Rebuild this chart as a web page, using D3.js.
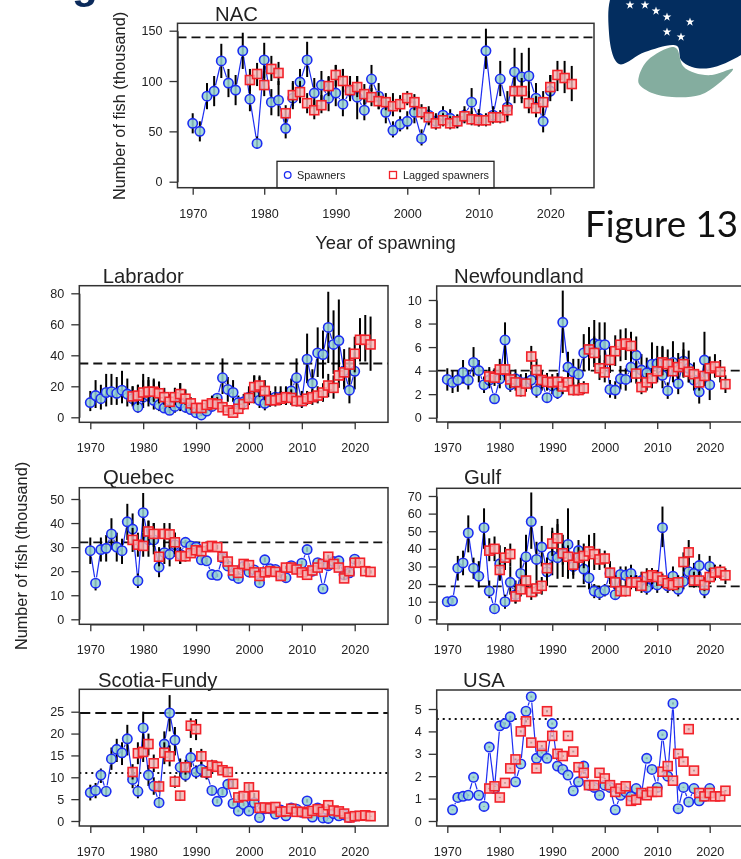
<!DOCTYPE html>
<html>
<head>
<meta charset="utf-8">
<script src="https://cdnjs.cloudflare.com/ajax/libs/d3/7.8.5/d3.min.js"></script>
<style>
  html, body { margin: 0; padding: 0; background: #fff; overflow: hidden; }
  svg { display: block; filter: blur(0.4px); }
  text { font-family: "Liberation Sans", Arial, sans-serif; fill: #222; }
</style>
</head>
<body>
<svg id="chart" width="741" height="859"></svg>
<script>
// years
var spawnerYears = d3.range(1970, 2021);
var laggedYears = d3.range(1978, 2024);
var xTicks = [1970, 1980, 1990, 2000, 2010, 2020];

// NAC
var nacSp = [58,50,85,90,120,98,91,130,82,38,121,79,81,53,83,99,121,88,96,83,88,77,90,84,71,102,85,69,51,57,60,69,43,66,60,66,63,60,66,79,63,130,66,102,74,109,104,105,83,60,90];
var nacSpLo = [48,40,72,75,103,84,76,112,70,33,103,66,65,43,72,85,104,72,80,70,75,65,80,62,61,90,72,58,44,50,52,58,36,56,52,57,55,53,58,67,55,112,58,85,60,88,82,82,66,49,80];
var nacSpHi = [68,60,98,105,137,112,106,148,97,45,138,92,100,63,100,112,139,103,110,104,116,112,105,105,83,116,98,82,60,65,70,80,52,75,68,75,72,67,75,93,72,152,75,120,90,133,128,133,98,72,106];
var nacLag = [101,107,96,112,108,68,86,89,78,71,76,95,106,100,91,94,87,84,80,79,75,77,83,79,69,64,58,61,58,60,65,62,61,61,64,64,71,90,90,78,73,79,94,106,103,97];
var nacLagLo = [90,95,85,100,96,60,75,78,68,62,68,85,95,89,82,84,77,75,72,71,65,69,76,71,62,57,52,55,52,54,59,56,55,55,58,58,64,78,78,68,64,68,84,90,88,80];
var nacLagHi = [112,118,110,125,119,76,98,100,88,81,86,105,116,112,100,105,97,93,89,88,88,86,90,87,77,72,66,68,65,66,72,70,68,68,71,71,80,104,103,90,85,90,106,120,120,115];

// Labrador
var labSp = [9.5,14,12,16,16.5,15.5,17.5,15,12,6.5,13,14,11,8,6,4.5,7,9,6.5,5,3,1.5,4,7,12.3,25.5,18,16,9.5,10,13,14.5,11,9,11,13,13,13,17,25.5,10.5,37.5,22,41.5,40.5,58,47,49.5,30,17.5,29.7];
var labSpLo = [4,6,5,7,8,8,9,7,7,3,6,7,5,4,3,2,3,4,3,2,1.5,0.8,2.5,4,7,15,10,10,6,6,8,9,6,4.5,7,8,8,8,10,15,6,22,13,26,25,35,28,28,18,9,18];
var labSpHi = [17,24,21,28,28,26,30,25,20,21,28,26,25,23,12,8,19,22,12,9,5,2.5,6,10,15,38,26,24,14,15,20,27,26,14,17,20,20,20,25,38,17,54,31,58,56,81,69,76,44,28,42];
var labLag = [13.5,14,16,16.5,16.5,15.5,13,10,13,15,12,9,6,6,8,9,8.5,6.5,4.5,3,5.5,8.5,12.5,19.5,20.5,17,11,11,12,13,12.5,10.5,10.5,12,13,14,16,20.5,19,27,29,34,41,50,50,47];
var labLagLo = [8,8,10,10,10,9,8,6,8,9,8,5,3,3.5,5,6,6,4,3,1.5,3,5,8,13,13,11,7,7,8,8,8,7,7,8,8,9,10,13,12,19,20,23,29,36,36,30];
var labLagHi = [20,21,24,24,24,23,19,15,19,22,18,13,9,9,11,14,13,10,7,5,8,12,18,27,27,24,16,16,17,19,18,15,15,17,18,20,22,28,27,37,38,45,52,64,66,65];

// Newfoundland
var nflSp = [3.25,3,3.2,3.85,3.2,4.7,4,2.8,3.2,1.6,3.3,6.6,2.8,3.3,3,3,3.2,2.3,3.1,1.7,2.7,2.1,8.1,4.3,3.9,3.7,5.5,5.8,6.3,6.2,6.2,2.4,2.35,3.3,3.25,4.3,5.3,4.05,3.8,4.55,4.6,3.6,2.3,4.7,2.9,4.8,4.2,3.2,2.2,4.9,2.8];
var nflSpLo = [2.3,2.1,2.2,2.9,2.4,3.5,3,2.1,2.5,1.2,2.5,5,2.2,2.5,2.3,2.3,2.4,1.7,2.3,1.3,2,1.6,5.5,3.1,2.8,2.6,4,4,4.6,4.4,4.3,1.7,1.6,2.4,2.3,3,3.9,2.9,2.7,3,3.2,2.5,1.6,3.2,2,3.5,3,2.3,1.2,3,1.5];
var nflSpHi = [4.2,4,4,4.9,4,6,4.9,3.5,4.1,2,4.2,8.1,3.6,4.1,3.7,3.8,4,2.9,3.9,2.1,3.4,2.6,10.8,5.6,5,5,7.1,7.7,8.3,8.1,8.1,3.2,3.1,4.4,4.2,5.8,6.9,5.4,5.1,6.4,6.1,6,3,6.5,4,6.4,5.7,4.2,2.9,7.3,4.4];
var nflLag = [3.5,3.4,4.1,4.1,3.25,3,2.25,2.9,5.2,4.05,3.2,3.05,3,3.05,2.65,3,2.35,2.35,2.5,5.8,5.5,4.2,3.85,4.9,5.65,6.2,6.3,6.1,3.75,2.6,3,3.35,3.95,4.7,4.55,3.95,4.3,4.55,3.9,3.7,3,3.55,4.2,4.35,3.9,2.85];
var nflLagLo = [2.7,2.7,3.2,3.2,2.5,2.3,1.8,2.2,4.1,3.2,2.5,2.3,2.3,2.3,2,2.3,1.9,1.9,2,4.6,4.3,3.2,3,3.8,4.4,4.8,4.9,4.8,2.9,2,2.3,2.5,3,3.6,3.5,3,3.3,3.4,3,2.8,2.3,2.7,3.2,3.4,3,2.1];
var nflLagHi = [4.3,4.2,5,5.1,4,3.7,2.9,3.6,6.1,5,4,3.8,3.7,3.8,3.3,3.8,3,3,3.1,7.1,6.9,5.3,4.9,6,7,7.5,7.6,7.3,4.7,3.3,3.8,4.2,5,6.1,5.8,5,5.5,5.8,4.9,4.7,3.8,4.5,5.2,5.4,4.9,3.6];

// Quebec
var queSp = [28.5,15,29,29.5,35.5,30,28.5,40.5,37.5,16,44.3,33,33,21.7,27.7,27,31,27,32,30.5,30,24.7,24.3,18.6,18.3,25.5,22.2,18.2,17,22,19.7,20.5,15.2,24.7,21,20.7,18.3,17.3,22.3,21,23.3,29,20,23.5,12.7,22.3,24,24.3,18.5,19.3,25];
var queSpLo = [23,12,24,24,29,24,23,33,31,13,36,26,27,17.5,23,22,26,23,30,29,29,23.5,23,17.7,17.5,24,21,17.4,16,21,18.7,19.5,14.4,23.7,20,19.7,17.5,16.5,21.4,20,22.3,28,19,22.5,12,21.3,23,23.3,17.7,18.4,24];
var queSpHi = [34,17,34,35,42,36,33.5,48,44,19,52.5,41,40,25,33,31,36,30,33,32,31,26,25.5,19.5,19,27,23,19,18,23,20.7,21.5,16,25.7,22,21.7,19,18,23.2,22,24.3,30,21,24.5,13.4,23.3,25,25.3,19.3,20.2,26];
var queLag = [33,31,30.5,36.5,35.5,26,35.5,35.3,32,26.3,26.2,27.5,28.7,28.3,30,30.5,30,26,24,20.3,19.3,23,22.5,19.5,18,19.5,20,19.7,18,21.5,21.5,20.7,19.5,18.5,20.3,21.5,23,26,23,21.5,17,20,23.5,23.5,20,19.7];
var queLagLo = [28,26,26,31,30,22,30,30,27,23,24,26,27,26.5,29,29.5,29,25,23,19.5,18.6,22.2,21.7,18.8,17.3,18.8,19.3,19,17.3,20.8,20.8,20,18.8,17.8,19.6,20.8,22.3,25.2,22.3,20.8,16.3,19.3,22.8,22.8,19.3,19];
var queLagHi = [38,36,36,41,40,30,40,40,36,29,28,29,30,30,31,31.5,31,27,25,21,20,23.8,23.3,20.2,18.7,20.2,20.7,20.4,18.7,22.2,22.2,21.4,20.2,19.2,21,22.2,23.7,26.8,23.7,22.2,17.7,20.7,24.2,24.2,20.7,20.4];

// Gulf
var gulSp = [10,10.5,29,32,49,29,24.5,52,16,6,31.5,10,21,14,26,35.5,55.5,34,41,27,36,35,37,42.5,30,39,28.5,23.5,16,15,16.5,26,14,25.5,25,26,21,22,18,23,19.5,52,19,24.5,17,21.5,27,26,30.5,16.5,30];
var gulSpLo = [9,9,22,25,38,23,18,40,12,4,22,6,14,9,18,26,40,22,30,19,25,23,24,23,23,30,20,17,12,11,13,20,11,20,20,20,16,17,14,17,15,41,15,19,13,17,20,20,24,12,24];
var gulSpHi = [11,12,36,39,59,35,33,63,22,8,42,14,30,22,35,48,72,44,53,35,52,57,48,63,37,45,38,31,20,19,20,33,17,30,30,31,25,27,22,29,24,64,23,30,21,27,35,32,37,21,36];
var gulLag = [39,40,28,35,37,13,17,22,15.5,17.5,19,29,43,46,37.5,35.5,31,35,36,38.5,37,34,34.5,26.5,21,16,16,21,21,19,24,25,24,22,20.5,19.5,21,32.5,38,22,22,19.5,24,26.5,27,25];
var gulLagLo = [33,33,22,28,30,9,13,17,11,13,14,23,36,38,31,29,25,29,29,30,28,28,29,22,17,13,13,17,17,15,19,20,19,18,17,16,17,27,31,18,18,16,20,22,23,20];
var gulLagHi = [46,47,34,41,43,17,22,28,20,22,24,35,50,54,44,42,37,41,43,48,49,40,39,31,25,20,20,25,25,23,29,29,28,26,24,23,25,38,45,27,27,24,29,31,31,29];

// Scotia-Fundy
var scoSp = [6.5,7,10.5,6.8,14.2,16.4,15.6,18.8,9.5,6.8,21.3,10.5,8,4.2,17.6,24.7,18.5,12.3,10.5,14.5,11.2,11.8,11,7,4.5,6.6,8.4,4,2.3,3.8,2.3,4.2,0.8,2.8,2.8,1.6,2.5,1.2,3,2.7,2,4.6,0.9,3,0.7,0.6,1.7,1.2,1.4,0.8,1.1];
var scoSpLo = [4.7,5.2,8.7,5.5,11.7,13.5,12.8,15,7.5,5.2,16.5,8,6,3,14.5,20.5,15,10,9,12.3,9.7,10,9.5,6.2,4,5.9,7.6,3.5,2,3.4,2,3.8,0.7,2.5,2.5,1.4,2.2,1,2.7,2.4,1.8,4.2,0.8,2.7,0.6,0.5,1.5,1.05,1.25,0.7,1];
var scoSpHi = [8.3,8.7,12,8,16.8,18.8,18,22,11.8,8.3,25,12.8,10,5.5,20.5,28.8,21.5,14.3,12,16.7,12.7,13.5,12.5,7.8,5,7.3,9.2,4.5,2.6,4.2,2.6,4.6,0.9,3.1,3.1,1.8,2.8,1.4,3.3,3,2.2,5,1,3.3,0.8,0.7,1.9,1.35,1.55,0.9,1.2];
var scoLag = [11.2,15.5,15.8,17.6,13.2,7.9,15.6,14.8,9,5.8,12.3,21.8,21,14.8,11.1,12.7,12.4,11.6,11.2,8.5,5.4,5.7,7.7,5.8,3,3.1,2.9,3.2,2.1,2.2,2.8,2.1,2.1,1.8,2.3,2.7,2.1,3.6,2.4,2.2,1.7,0.8,1.1,1.2,1.3,1.1];
var scoLagLo = [9.5,13,13.5,15,11.2,6.6,13,12.5,7.6,4.6,10.6,19,18.5,13,9.7,11.4,11.2,10.5,10.2,7.6,4.8,5.1,6.9,5.2,2.7,2.8,2.6,2.9,1.9,2,2.5,1.9,1.9,1.6,2.1,2.4,1.9,3.3,2.2,2,1.5,0.7,1,1.1,1.2,1];
var scoLagHi = [13,18,18.5,20,15.2,9.2,18,17.3,10.4,6.8,14,23.5,23.3,16.5,12.5,14,13.6,12.7,12.2,9.4,6,6.3,8.5,6.4,3.3,3.4,3.2,3.5,2.3,2.4,3.1,2.3,2.3,2,2.5,3,2.3,3.9,2.6,2.4,1.9,0.9,1.2,1.3,1.4,1.2];

// USA (no 1970 value)
var usaSp = [null,.5,1.05,1.1,1.15,1.95,1.15,.65,3.3,1.45,4.25,4.35,4.65,1.75,2.55,4.9,5.55,2.8,3.05,2.8,4.35,2.45,2.3,2.05,1.35,1.75,2.45,1.6,1.5,1.15,1.6,1.5,.5,1.15,1.3,1.1,1.45,1.2,2.8,2.3,1.5,3.85,2,5.25,.55,1.5,.85,1.45,.9,1.1,1.45];
var usaSpLo = [null,.48,1.02,1.07,1.12,1.91,1.12,.63,3.25,1.42,4.2,4.3,4.6,1.72,2.51,4.85,5.5,2.76,3.01,2.76,4.3,2.41,2.26,2.01,1.32,1.72,2.41,1.57,1.47,1.12,1.57,1.47,.48,1.12,1.27,1.07,1.42,1.17,2.76,2.26,1.47,3.8,1.96,5.2,.53,1.47,.83,1.42,.88,1.07,1.42];
var usaSpHi = [null,.52,1.08,1.13,1.18,1.99,1.18,.67,3.35,1.48,4.3,4.4,4.7,1.78,2.59,4.95,5.6,2.84,3.09,2.84,4.4,2.49,2.34,2.09,1.38,1.78,2.49,1.63,1.53,1.18,1.63,1.53,.52,1.18,1.33,1.13,1.48,1.23,2.84,2.34,1.53,3.9,2.04,5.3,.57,1.53,.87,1.48,.92,1.13,1.48];
var usaLag = [1.45,1.55,1.05,1.7,2.35,2.75,4,4.45,3.5,2.35,3.35,4.9,3.8,3,2.9,3.8,3.1,2.4,2.15,1.6,1.6,2.15,1.9,1.6,1.3,1.45,1.55,.9,.95,1.25,1.15,1.3,1.3,2.2,2.45,1.8,3,2.65,4.1,2.25,1.25,1.1,1.25,1.1,1.1,1.35];
var usaLagLo = [1.42,1.52,1.02,1.67,2.31,2.71,3.95,4.4,3.46,2.31,3.31,4.85,3.76,2.96,2.86,3.76,3.06,2.36,2.11,1.57,1.57,2.11,1.87,1.57,1.27,1.42,1.52,.88,.93,1.22,1.12,1.27,1.27,2.16,2.41,1.77,2.96,2.61,4.05,2.21,1.22,1.07,1.22,1.07,1.07,1.32];
var usaLagHi = [1.48,1.58,1.08,1.73,2.39,2.79,4.05,4.5,3.54,2.39,3.39,4.95,3.84,3.04,2.94,3.84,3.14,2.44,2.19,1.63,1.63,2.19,1.93,1.63,1.33,1.48,1.58,.92,.97,1.28,1.18,1.33,1.33,2.24,2.49,1.83,3.04,2.69,4.15,2.29,1.28,1.13,1.28,1.13,1.13,1.38];

var panels = [
  {title: "NAC", tx: 215, ty: 20.5, sp: nacSp, spLo: nacSpLo, spHi: nacSpHi, lag: nacLag, lagLo: nacLagLo, lagHi: nacLagHi,
   yMax: 150, yTicks: [0,50,100,150], frame: [177.5, 23.3, 594, 187.7], xr: [192.7, 550.3], yr: [181.7, 30.7], dashed: 143.3},
  {title: "Labrador", tx: 102.7, ty: 282.7, sp: labSp, spLo: labSpLo, spHi: labSpHi, lag: labLag, lagLo: labLagLo, lagHi: labLagHi,
   yMax: 80, yTicks: [0,20,40,60,80], frame: [79.3, 285.7, 388, 422.3], xr: [90.3, 354.7], yr: [417.3, 293.3], dashed: 34.7},
  {title: "Newfoundland", tx: 454, ty: 282.7, sp: nflSp, spLo: nflSpLo, spHi: nflSpHi, lag: nflLag, lagLo: nflLagLo, lagHi: nflLagHi,
   yMax: 10, yTicks: [0,2,4,6,8,10], frame: [436.7, 286, 746, 422], xr: [447.3, 709.7], yr: [417.7, 300], dashed: 4},
  {title: "Quebec", tx: 103, ty: 484.3, sp: queSp, spLo: queSpLo, spHi: queSpHi, lag: queLag, lagLo: queLagLo, lagHi: queLagHi,
   yMax: 50, yTicks: [0,10,20,30,40,50], frame: [79.3, 487.7, 388, 624.3], xr: [90.3, 354.7], yr: [619.3, 499], dashed: 32},
  {title: "Gulf", tx: 464, ty: 484.3, sp: gulSp, spLo: gulSpLo, spHi: gulSpHi, lag: gulLag, lagLo: gulLagLo, lagHi: gulLagHi,
   yMax: 70, yTicks: [0,10,20,30,40,50,60,70], frame: [436.7, 488.3, 746, 624], xr: [447.3, 709.7], yr: [619.3, 496], dashed: 18.7},
  {title: "Scotia-Fundy", tx: 98, ty: 686.7, sp: scoSp, spLo: scoSpLo, spHi: scoSpHi, lag: scoLag, lagLo: scoLagLo, lagHi: scoLagHi,
   yMax: 25, yTicks: [0,5,10,15,20,25], frame: [79.3, 689.3, 388, 826], xr: [90.3, 354.7], yr: [821, 711.7], dashed: 24.7, dotted: 11, heavy: true},
  {title: "USA", tx: 463, ty: 686.7, sp: usaSp, spLo: usaSpLo, spHi: usaSpHi, lag: usaLag, lagLo: usaLagLo, lagHi: usaLagHi,
   yMax: 5, yTicks: [0,1,2,3,4,5], frame: [436.7, 690, 746, 826], xr: [447.3, 709.7], yr: [821, 709], dotted: 4.55}
];

var BLUE = "#1c2cf2", RED = "#f2222a";
var svg = d3.select("#chart");

// logo and clipped heading at the top of the slide
function drawDecor() {
  svg.append("text").attr("x", 72).attr("y", -2).attr("font-size", 42).attr("font-weight", "bold")
    .style("fill", "#0b2a5b").text("g");

  var line = d3.line().curve(d3.curveCatmullRomClosed);
  var navy = [[618,-14],[609,33],[619,64],[645,52],[677,46],[681,60],[692,67],[710,68],[741,55],[770,30],[770,-14]];
  var teal = [[672,47],[648,60],[639,76],[639,84],[652,93],[672,97],[700,95],[718,84],[733,69],[712,75],[695,73],[683,66],[677,49]];
  svg.append("path").attr("d", line(navy)).attr("fill", "#032d5f");
  svg.append("path").attr("d", line(teal)).attr("fill", "#84ad9f");

  var stars = [[630,5],[645,5],[656,11],[667,17],[690,22],[667,32],[681,37]];
  var star = d3.symbol().type(d3.symbolStar).size(24);
  svg.selectAll("path.star").data(stars).enter().append("path").attr("class", "star")
    .attr("d", star).attr("fill", "#fff")
    .attr("transform", function(d) { return "translate(" + d[0] + "," + d[1] + ")"; });

  svg.append("text").attr("x", 585).attr("y", 237).attr("font-size", 36)
    .attr("textLength", 153).attr("lengthAdjust", "spacingAndGlyphs")
    .style("font-family", "Lato, sans-serif").style("fill", "#111").text("Figure 13");
}

function drawPanel(p) {
  var g = svg.append("g");
  var x = d3.scaleLinear().domain([1970, 2020]).range(p.xr);
  var y = d3.scaleLinear().domain([0, p.yMax]).range(p.yr);
  var f = p.frame;

  // threshold lines
  if (p.dashed != null) {
    g.append("line").attr("x1", f[0]).attr("x2", f[2]).attr("y1", y(p.dashed)).attr("y2", y(p.dashed))
      .attr("stroke", "#111").attr("stroke-width", p.heavy ? 2.2 : 1.8).attr("stroke-dasharray", p.heavy ? "11,5" : "9,5");
  }
  if (p.dotted != null) {
    g.append("line").attr("x1", f[0]).attr("x2", f[2]).attr("y1", y(p.dotted)).attr("y2", y(p.dotted))
      .attr("stroke", "#111").attr("stroke-width", 2).attr("stroke-dasharray", "2,4");
  }

  // spawners: R type "b" line, gaps round the points
  var pts = spawnerYears.map(function(yr, i) {
    return {year: yr, v: p.sp[i], lo: p.spLo[i], hi: p.spHi[i]};
  }).filter(function(d) { return d.v != null; });
  var gap = 6;
  var segs = d3.pairs(pts).map(function(pair) {
    var x1 = x(pair[0].year), y1 = y(pair[0].v), x2 = x(pair[1].year), y2 = y(pair[1].v);
    var len = Math.hypot(x2 - x1, y2 - y1);
    var ux = (x2 - x1) / len, uy = (y2 - y1) / len;
    return {len: len, x1: x1 + ux * gap, y1: y1 + uy * gap, x2: x2 - ux * gap, y2: y2 - uy * gap};
  }).filter(function(s) { return s.len > gap * 2; });
  g.selectAll("line.seg").data(segs).enter().append("line").attr("class", "seg")
    .attr("x1", function(s) { return s.x1; }).attr("y1", function(s) { return s.y1; })
    .attr("x2", function(s) { return s.x2; }).attr("y2", function(s) { return s.y2; })
    .attr("stroke", BLUE).attr("stroke-width", 1.2);

  g.selectAll("line.spw").data(pts).enter().append("line").attr("class", "spw")
    .attr("x1", function(d) { return x(d.year); }).attr("x2", function(d) { return x(d.year); })
    .attr("y1", function(d) { return y(d.lo); }).attr("y2", function(d) { return y(d.hi); })
    .attr("stroke", "#000").attr("stroke-width", 2);
  g.selectAll("circle").data(pts).enter().append("circle")
    .attr("cx", function(d) { return x(d.year); }).attr("cy", function(d) { return y(d.v); })
    .attr("r", 4.7).attr("fill", "rgba(150,210,210,0.85)").attr("stroke", BLUE).attr("stroke-width", 1.6);

  // lagged spawners
  var lagPts = laggedYears.map(function(yr, i) {
    return {year: yr, v: p.lag[i], lo: p.lagLo[i], hi: p.lagHi[i]};
  });
  g.selectAll("line.lagw").data(lagPts).enter().append("line").attr("class", "lagw")
    .attr("x1", function(d) { return x(d.year); }).attr("x2", function(d) { return x(d.year); })
    .attr("y1", function(d) { return y(d.lo); }).attr("y2", function(d) { return y(d.hi); })
    .attr("stroke", "#000").attr("stroke-width", 2);
  var side = 9;
  g.selectAll("rect.lag").data(lagPts).enter().append("rect").attr("class", "lag")
    .attr("x", function(d) { return x(d.year) - side / 2; }).attr("y", function(d) { return y(d.v) - side / 2; })
    .attr("width", side).attr("height", side)
    .attr("fill", "rgba(245,180,180,0.8)").attr("stroke", RED).attr("stroke-width", 1.6);

  // box and axes
  g.append("rect").attr("x", f[0]).attr("y", f[1]).attr("width", f[2] - f[0]).attr("height", f[3] - f[1])
    .attr("fill", "none").attr("stroke", "#333").attr("stroke-width", 1.5);

  var xAxis = d3.axisBottom(x).tickValues(xTicks).tickFormat(d3.format("d")).tickSize(7).tickPadding(14).tickSizeOuter(0);
  var yAxis = d3.axisLeft(y).tickValues(p.yTicks).tickFormat(d3.format("d")).tickSize(8).tickPadding(7).tickSizeOuter(0);
  var ax = g.append("g").attr("transform", "translate(0," + f[3] + ")").call(xAxis);
  var ay = g.append("g").attr("transform", "translate(" + f[0] + ",0)").call(yAxis);
  [ax, ay].forEach(function(a) {
    a.selectAll("text").attr("font-size", 12.6).style("font-family", "'Liberation Sans', Arial, sans-serif");
    a.selectAll("line, path").attr("stroke", "#333").attr("stroke-width", 1.3);
    a.attr("font-size", null).attr("font-family", null);
  });

  g.append("text").attr("x", p.tx).attr("y", p.ty).attr("font-size", 20.3).text(p.title);
}

function drawLegend() {
  var g = svg.append("g");
  g.append("rect").attr("x", 277).attr("y", 161.3).attr("width", 217).attr("height", 26.4)
    .attr("fill", "#fff").attr("stroke", "#222").attr("stroke-width", 1.3);
  g.append("circle").attr("cx", 287.7).attr("cy", 175).attr("r", 3.3)
    .attr("fill", "none").attr("stroke", BLUE).attr("stroke-width", 1.3);
  g.append("text").attr("x", 297).attr("y", 178.7).attr("font-size", 10.9).text("Spawners");
  g.append("rect").attr("x", 389.5).attr("y", 171.5).attr("width", 7).attr("height", 7)
    .attr("fill", "none").attr("stroke", RED).attr("stroke-width", 1.3);
  g.append("text").attr("x", 403).attr("y", 178.7).attr("font-size", 10.9).text("Lagged spawners");
}

drawDecor();
panels.forEach(drawPanel);
drawLegend();

svg.append("text").attr("transform", "translate(125,106) rotate(-90)").attr("text-anchor", "middle")
  .attr("font-size", 16.3).text("Number of fish (thousand)");
svg.append("text").attr("x", 385.5).attr("y", 249).attr("text-anchor", "middle")
  .attr("font-size", 18.4).text("Year of spawning");
svg.append("text").attr("transform", "translate(27,556) rotate(-90)").attr("text-anchor", "middle")
  .attr("font-size", 16.3).text("Number of fish (thousand)");
</script>
</body>
</html>
